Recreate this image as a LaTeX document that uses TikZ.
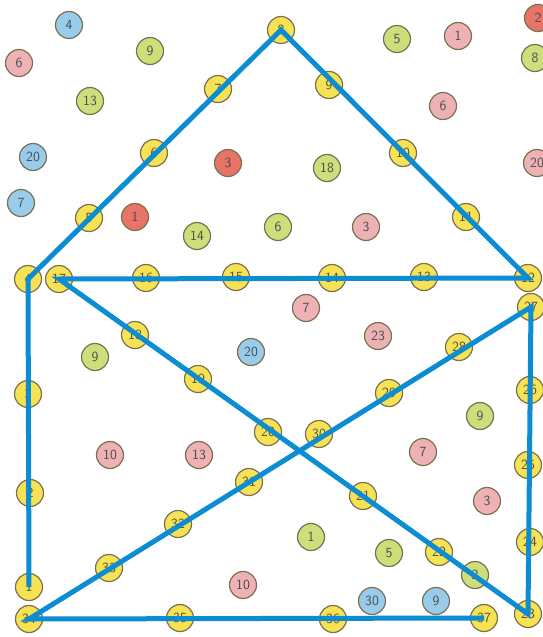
\documentclass[tikz,border=0pt]{standalone}
\usetikzlibrary{positioning}
\definecolor{dotyellow}{RGB}{246,226,82}
\definecolor{dotgreen}{RGB}{206,222,122}
\definecolor{dotpink}{RGB}{238,178,180}
\definecolor{dotred}{RGB}{232,116,104}
\definecolor{dotblue}{RGB}{152,204,234}
\definecolor{rimgray}{RGB}{122,112,82}
\definecolor{trailblue}{RGB}{12,140,210}

\begin{document}
\begin{tikzpicture}[
    x=1pt, y=-1pt,
    every node/.style={font=\sffamily\fontsize{14}{14}\selectfont, text=black!70},
    dot/.style={circle, draw=rimgray, line width=1.2pt, minimum size=27pt, inner sep=0pt},
    yellowdot/.style={dot, fill=dotyellow},
    greendot/.style={dot, fill=dotgreen},
    pinkdot/.style={dot, fill=dotpink},
    reddot/.style={dot, fill=dotred},
    bluedot/.style={dot, fill=dotblue},
    trail/.style={draw=trailblue, line width=5pt, line join=miter}
]
\clip (0,0) rectangle (543,637);

% Numbered dots of the trail
\foreach \n/\x/\y in {1/29/587, 2/30/493, 3/28/394, 4/28/279, 5/89/218, 6/154/153,
    7/218/89, 8/281/30, 9/329/85, 10/403/153, 11/466/217, 12/528/278,
    13/424/277, 14/332/278, 15/236/277, 16/146/278, 17/59/279, 18/135/335,
    19/198/379, 20/268/432, 21/363/496, 22/439/552, 23/528/614, 24/530/542,
    25/528/465, 26/530/390, 27/531/307, 28/459/347, 29/389/393, 30/319/434,
    31/249/482, 32/178/524, 33/109/568, 34/29/619, 35/180/618, 36/333/619,
    37/484/618} {
    \node[yellowdot] (p\n) at (\x,\y) {\n};
}

% Other coloured dots
\foreach \c/\n/\x/\y [count=\i] in {bluedot/4/69/25, bluedot/20/33/157, bluedot/7/21/203,
    bluedot/20/251/352, bluedot/30/372/601, bluedot/9/436/601,
    pinkdot/6/19/63, pinkdot/1/458/36, pinkdot/6/443/106, pinkdot/20/537/163,
    pinkdot/3/366/227, pinkdot/7/306/308, pinkdot/23/378/336, pinkdot/10/110/455,
    pinkdot/13/199/455, pinkdot/7/423/452, pinkdot/3/487/501, pinkdot/10/243/585,
    reddot/3/228/163, reddot/1/135/217, reddot/2/538/18,
    greendot/9/150/51, greendot/13/90/101, greendot/5/397/39, greendot/8/535/58,
    greendot/18/327/168, greendot/14/197/236, greendot/6/278/227, greendot/9/95/357,
    greendot/9/480/416, greendot/1/311/537, greendot/5/389/553, greendot/2/475/575} {
    \node[\c] (d\i) at (\x,\y) {\n};
}

% The joined-up house
\draw[trail] (p1.center) -- (p4.center) -- (p8.center) -- (p12.center) -- (p17.center)
    -- (p23.center) -- (p27.center) -- (p34.center) -- (p37.center);

\end{tikzpicture}
\end{document}
